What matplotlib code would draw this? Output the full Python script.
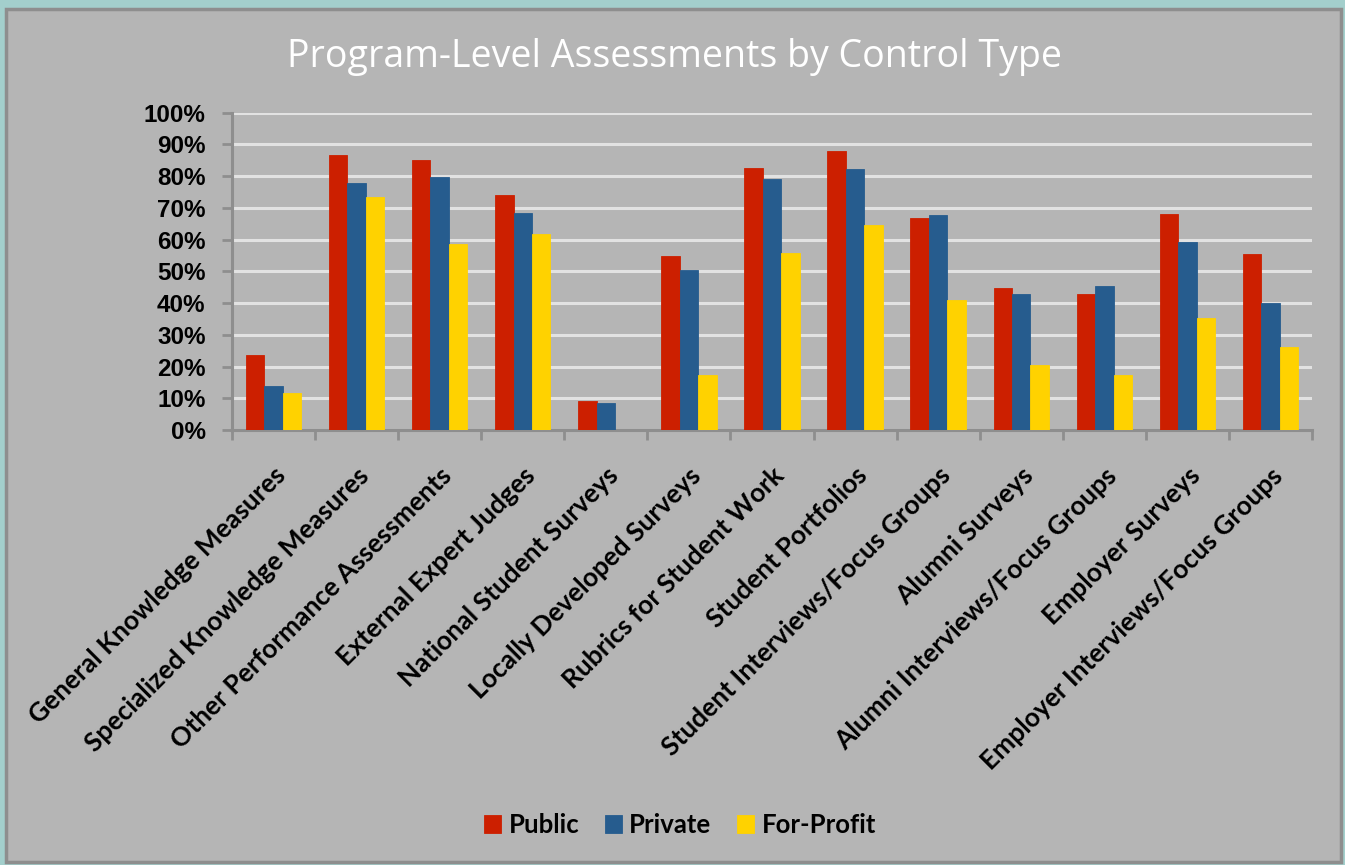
import numpy as np
import matplotlib.pyplot as plt
from matplotlib.patches import Rectangle

categories = [
    "General Knowledge Measures",
    "Specialized Knowledge Measures",
    "Other Performance Assessments",
    "External Expert Judges",
    "National Student Surveys",
    "Locally Developed Surveys",
    "Rubrics for Student Work",
    "Student Portfolios",
    "Student Interviews/Focus Groups",
    "Alumni Surveys",
    "Alumni Interviews/Focus Groups",
    "Employer Surveys",
    "Employer Interviews/Focus Groups",
]
public = [23.6, 86.7, 85.1, 74.2, 9.1, 54.8, 82.6, 87.8, 66.8, 44.8, 42.9, 68.2, 55.5]
private = [13.9, 77.9, 79.6, 68.5, 8.5, 50.4, 79.0, 82.3, 67.7, 42.8, 45.4, 59.3, 40.1]
for_profit = [11.6, 73.4, 58.6, 61.7, 0.0, 17.4, 55.7, 64.5, 41.0, 20.4, 17.4, 35.2, 26.3]
series_names = ["Public", "Private", "For-Profit"]
colors = ["#CC1F00", "#265C8E", "#FFD200"]
yticks = list(range(0, 101, 10))

W, H = 1345, 865
fig = plt.figure(figsize=(W / 100, H / 100), dpi=100, facecolor="#A3CFCC")
fig.patches.append(Rectangle((6 / W, 3 / H), 1335 / W, 853 / H, transform=fig.transFigure,
                             facecolor="#B5B5B5", edgecolor="#8E8E8E", linewidth=2.5,
                             zorder=-10))

ax = fig.add_axes([232 / W, 1 - 430 / H, 1080 / W, (430 - 112.7) / H])
ax.set_facecolor("none")

x = np.arange(len(categories))
bw = 0.222
for k, (vals, name, c) in enumerate(zip([public, private, for_profit], series_names, colors)):
    ax.bar(x + (k - 1) * bw, vals, width=bw, color=c, edgecolor=c, linewidth=0.6, label=name, zorder=3)

ax.set_xlim(-0.5, len(categories) - 0.5)
ax.set_ylim(0, 100)
ax.set_yticks(yticks)
ax.set_yticklabels([f"{v}%" for v in yticks], fontsize=17.5, fontweight="bold",
                   family="Liberation Sans")
ax.yaxis.grid(True, color="#E2E2E2", linewidth=2.2, zorder=0)
ax.set_axisbelow(True)

ax.set_xticks(x)
ax.set_xticklabels(categories, rotation=45, ha="right", rotation_mode="anchor",
                   fontsize=19, fontweight="bold", family="Lato")
ax.tick_params(axis="x", which="major", length=0, pad=24)
ax.set_xticks(np.arange(-0.5, len(categories)), minor=True)
ax.tick_params(axis="x", which="minor", length=7, width=2, color="#8E8E8E")
ax.tick_params(axis="y", length=7, width=2, color="#8E8E8E", pad=12)

for s in ["top", "right"]:
    ax.spines[s].set_visible(False)
for s in ["left", "bottom"]:
    ax.spines[s].set_color("#8E8E8E")
    ax.spines[s].set_linewidth(2.2)

fig.text(675 / W, 1 - 57 / H, "Program-Level Assessments by Control Type",
         ha="center", va="center", color="white", fontsize=27, family="Open Sans")

fig.legend(loc="center", bbox_to_anchor=(680 / W, 1 - 825 / H), ncol=3, frameon=False,
           prop={"family": "Lato", "weight": "bold", "size": 18.5},
           handlelength=0.65, handleheight=0.65, handletextpad=0.3, columnspacing=1.0)

fig.savefig("out.png", dpi=100, facecolor=fig.get_facecolor())
